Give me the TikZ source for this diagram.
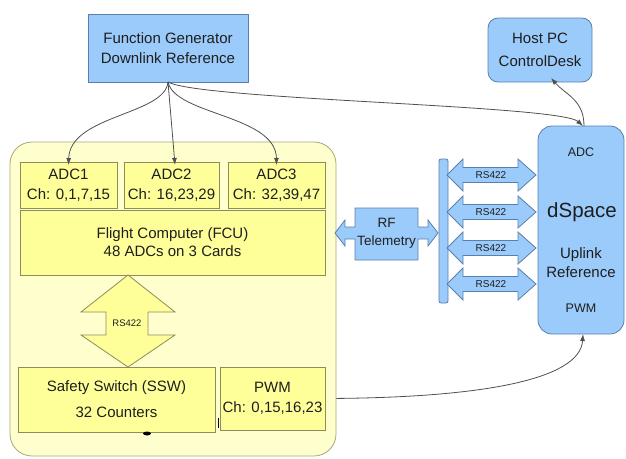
\documentclass[tikz,border=0pt]{standalone}
\usepackage{fontspec}
\setmainfont{Liberation Sans}
\usetikzlibrary{arrows.meta}
\definecolor{bluefill}{RGB}{155,203,250}
\definecolor{bluedraw}{RGB}{88,128,172}
\definecolor{yelfill}{RGB}{255,255,153}
\definecolor{yeldraw}{RGB}{140,140,92}
\definecolor{contfill}{RGB}{255,255,206}
\definecolor{contdraw}{RGB}{168,166,118}
\definecolor{txt}{RGB}{30,30,30}
\definecolor{wire}{RGB}{80,80,80}
\pgfdeclarelayer{conn}
\pgfdeclarelayer{cont}
\pgfsetlayers{conn,cont,main}
\tikzset{
  bluebox/.style={draw=bluedraw, fill=bluefill, line width=0.8pt, inner sep=0pt, outer sep=0pt, align=center, text=txt},
  yelbox/.style={draw=yeldraw, fill=yelfill, line width=0.8pt, inner sep=0pt, outer sep=0pt, align=center, text=txt},
  lbl/.style={inner sep=0pt, outer sep=0pt, text=txt, align=center},
  wirearrow/.style={draw=wire, line width=0.8pt, -{Latex[length=7pt,width=5pt]}},
  dblarrow/.style={draw=bluedraw, fill=bluefill, line width=0.8pt, line join=miter},
  yelarrow/.style={draw=yeldraw, fill=yelfill, line width=0.8pt, line join=miter},
}
\begin{document}
\begin{tikzpicture}[x=1pt,y=-1pt]
\useasboundingbox (0,0) rectangle (626,458);
% container
\begin{pgfonlayer}{cont}
\node[draw=contdraw, fill=contfill, line width=0.8pt, rounded corners=22pt, minimum width=326pt, minimum height=314pt, inner sep=0pt] (cont) at (173,299) {};
\end{pgfonlayer}
% top nodes
\node[bluebox, minimum width=160pt, minimum height=68pt, font=\fontsize{15}{20}\selectfont] (fg) at (168,48) {Function Generator\\ Downlink Reference};
\node[bluebox, rounded corners=10pt, minimum width=104pt, minimum height=64pt, font=\fontsize{15}{23}\selectfont] (host) at (540,50) {Host PC\\ ControlDesk};
\node[bluebox, rounded corners=14pt, minimum width=86pt, minimum height=208pt] (dspace) at (581,230) {};
\node[lbl, font=\fontsize{12.5}{15}\selectfont] (dadc) at (581,152) {ADC};
\node[lbl, font=\fontsize{20.5}{24}\selectfont] (dname) at (582,212) {dSpace};
\node[lbl, font=\fontsize{15}{19}\selectfont] (dup) at (581,263) {Uplink\\ Reference};
\node[lbl, font=\fontsize{12.5}{15}\selectfont] (dpwm) at (581,308) {PWM};
% yellow boxes
\node[yelbox, minimum width=97pt, minimum height=46pt, font=\fontsize{15}{20}\selectfont] (adc1) at (68.5,185) {ADC1\\ Ch: 0,1,7,15};
\node[yelbox, minimum width=95pt, minimum height=46pt, font=\fontsize{15}{20}\selectfont] (adc2) at (171.5,185) {ADC2\\ Ch: 16,23,29};
\node[yelbox, minimum width=97pt, minimum height=46pt, font=\fontsize{15}{20}\selectfont] (adc3) at (276.5,185) {ADC3\\ Ch: 32,39,47};
\node[yelbox, minimum width=305pt, minimum height=65pt, font=\fontsize{15}{18}\selectfont] (fcu) at (172.5,242.5) {Flight Computer (FCU)\\ 48 ADCs on 3 Cards};
\node[yelbox, minimum width=197pt, minimum height=65pt, font=\fontsize{15}{26}\selectfont] (ssw) at (116.5,399.5) {Safety Switch (SSW)\\ 32 Counters};
\node[yelbox, minimum width=105pt, minimum height=63pt, font=\fontsize{15}{20}\selectfont] (pwm) at (272.5,398.5) {PWM\\ Ch: 0,15,16,23};
% vertical RS422 arrow
\draw[yelarrow] (128,275) -- (175,312) -- (148,312) -- (148,335) -- (175,335) -- (128,367) -- (81,335) -- (106,335) -- (106,312) -- (81,312) -- cycle;
\node[lbl, font=\fontsize{9.5}{11}\selectfont] (rsv) at (127,323.5) {RS422};
% RF telemetry
\draw[dblarrow] (355,208) -- (418,208) -- (418,227) -- (428,227) -- (428,220) -- (438,233) -- (428,246) -- (428,239) -- (418,239) -- (418,260) -- (355,260) -- (355,239) -- (345,239) -- (345,246) -- (335,233) -- (345,220) -- (345,227) -- (355,227) -- cycle;
\node[lbl, font=\fontsize{13.5}{18}\selectfont] (rf) at (386.5,233) {RF\\ Telemetry};
% bar
\node[bluebox, rounded corners=2pt, minimum width=9pt, minimum height=144pt] (bar) at (443.5,231) {};
% horizontal RS422 arrows
\foreach \c/\n in {175/rsa,212/rsb,248/rsc,284/rsd}{
  \draw[dblarrow] (447,\c) -- (463,\c-16) -- (463,\c-7.5) -- (518,\c-7.5) -- (518,\c-16) -- (536,\c) -- (518,\c+16) -- (518,\c+7.5) -- (463,\c+7.5) -- (463,\c+16) -- cycle;
  \node[lbl, font=\fontsize{10}{12}\selectfont] (\n) at (491,\c) {RS422};
}
% connectors
\draw[wirearrow] (fg.south) .. controls (165,115) and (70,115) .. ([yshift=-3pt]adc1.north);
\draw[wirearrow] (fg.south) -- ([xshift=3.5pt,yshift=-3pt]adc2.north);
\draw[wirearrow] (fg.south) .. controls (175,115) and (276,115) .. ([yshift=-3pt]adc3.north);
\draw[wirearrow] (fg.south) .. controls (200,100) and (560,105) .. ([xshift=2pt]dspace.north);
\draw[wirearrow] ([xshift=3pt]dspace.north) .. controls (584,100) and (566,95) .. ([xshift=11pt,yshift=4pt]host.south);
\begin{pgfonlayer}{conn}
\draw[wirearrow] (pwm.east) .. controls (480,398) and (580,380) .. ([xshift=2pt]dspace.south);
\end{pgfonlayer}
% small marks
\fill[black] (147,433.5) ellipse (4pt and 2pt);
\draw[black, line width=0.8pt] (218,418) -- (218,428);
\end{tikzpicture}
\end{document}
